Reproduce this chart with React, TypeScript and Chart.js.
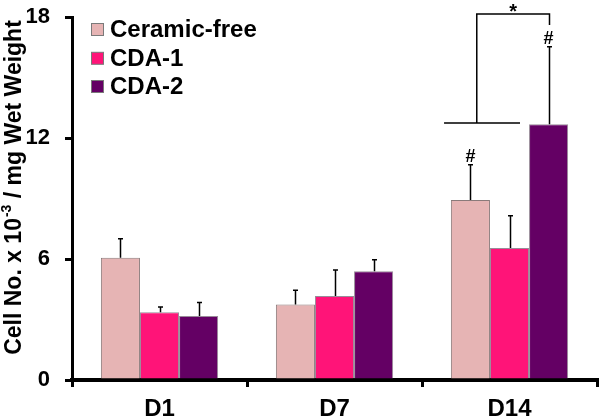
import React, { useEffect, useRef } from 'react';
import { Chart, registerables } from 'chart.js';
Chart.register(...registerables);

const categories = ['D1', 'D7', 'D14'];
const seriesNames = ['Ceramic-free', 'CDA-1', 'CDA-2'];
const ceramicFree = [6.06, 3.75, 8.92];
const cda1 = [3.36, 4.16, 6.54];
const cda2 = [3.17, 5.39, 12.68];
const ceramicFreeSd = [0.94, 0.7, 1.75];
const cda1Sd = [0.26, 1.29, 1.61];
const cda2Sd = [0.67, 0.57, 3.85];
const yTicks = [0, 6, 12, 18];
const sigMarks = [
  { dataset: 0, index: 2, text: '#' },
  { dataset: 2, index: 2, text: '#' },
];
const bracketBaseX = [1.626, 2.06];
const bracketBaseY = 12.75;
const bracketStemX = 1.813;
const bracketTopY = 18.15;
const bracketDropY = 17.6;
const bracketTarget = { dataset: 2, index: 2 };
const bracketLabel = '*';

const FONT = "'Liberation Sans', Arial, sans-serif";
const colors = ['#E6B4B4', '#FF1478', '#640064'];
const sds = [ceramicFreeSd, cda1Sd, cda2Sd];

const overlay = {
  id: 'overlay',
  afterDatasetsDraw(chart: any) {
    const ctx = chart.ctx;
    const xs = chart.scales.x;
    const ys = chart.scales.y;
    ctx.save();
    ctx.strokeStyle = '#000';
    ctx.fillStyle = '#000';
    ctx.lineWidth = 1.5;
    chart.data.datasets.forEach((ds: any, di: number) => {
      const meta = chart.getDatasetMeta(di);
      meta.data.forEach((el: any, i: number) => {
        const v = ds.data[i];
        const top = ys.getPixelForValue(v + sds[di][i]);
        const x = Math.round(el.x) + 0.5;
        ctx.beginPath();
        ctx.moveTo(x, el.y);
        ctx.lineTo(x, top);
        ctx.moveTo(x - 2.5, top);
        ctx.lineTo(x + 2.5, top);
        ctx.stroke();
      });
    });
    ctx.font = `bold 18px ${FONT}`;
    ctx.textAlign = 'center';
    ctx.textBaseline = 'alphabetic';
    sigMarks.forEach((m) => {
      const el = chart.getDatasetMeta(m.dataset).data[m.index];
      const v = chart.data.datasets[m.dataset].data[m.index];
      const top = ys.getPixelForValue(v + sds[m.dataset][m.index]);
      ctx.fillText(m.text, el.x, top - 3);
    });
    const tEl = chart.getDatasetMeta(bracketTarget.dataset).data[bracketTarget.index];
    const rx = Math.round(tEl.x) + 0.5;
    const baseY = ys.getPixelForValue(bracketBaseY);
    const topY = ys.getPixelForValue(bracketTopY);
    const dropY = ys.getPixelForValue(bracketDropY);
    const stemX = xs.getPixelForValue(bracketStemX);
    ctx.lineWidth = 1.5;
    ctx.beginPath();
    ctx.moveTo(xs.getPixelForValue(bracketBaseX[0]), baseY);
    ctx.lineTo(xs.getPixelForValue(bracketBaseX[1]), baseY);
    ctx.moveTo(stemX, baseY);
    ctx.lineTo(stemX, topY);
    ctx.lineTo(rx, topY);
    ctx.lineTo(rx, dropY);
    ctx.stroke();
    ctx.font = `bold 20px ${FONT}`;
    ctx.textBaseline = 'alphabetic';
    ctx.fillText(bracketLabel, (stemX + rx) / 2, topY + 4);
    ctx.restore();
  },
  afterDraw(chart: any) {
    const ctx = chart.ctx;
    ctx.save();
    const rows = [29.5, 58.3, 86.5];
    chart.data.datasets.forEach((ds: any, i: number) => {
      const cy = rows[i];
      ctx.fillStyle = ds.backgroundColor;
      ctx.fillRect(91.5, cy - 6, 12, 12);
      ctx.strokeStyle = '#7a7a7a';
      ctx.lineWidth = 1;
      ctx.strokeRect(91.5, cy - 6, 12, 12);
      ctx.fillStyle = '#000';
      ctx.font = `bold 24px ${FONT}`;
      ctx.textAlign = 'left';
      ctx.textBaseline = 'middle';
      ctx.fillText(ds.label, 110, cy + 1);
    });
    ctx.translate(13, 188);
    ctx.rotate(-Math.PI / 2);
    const big = `bold 23px ${FONT}`;
    const small = `bold 14px ${FONT}`;
    const p1 = 'Cell No. x 10';
    const p2 = '-3';
    const p3 = ' / mg Wet Weight';
    ctx.font = big;
    const w1 = ctx.measureText(p1).width;
    const w3 = ctx.measureText(p3).width;
    ctx.font = small;
    const w2 = ctx.measureText(p2).width;
    let x0 = -(w1 + w2 + w3) / 2;
    ctx.fillStyle = '#000';
    ctx.textAlign = 'left';
    ctx.textBaseline = 'alphabetic';
    ctx.font = big;
    ctx.fillText(p1, x0, 8);
    x0 += w1;
    ctx.font = small;
    ctx.fillText(p2, x0 + 1, -2);
    x0 += w2 + 1;
    ctx.font = big;
    ctx.fillText(p3, x0, 8);
    ctx.restore();
  },
};

export default function App() {
  const ref = useRef<HTMLCanvasElement>(null);
  useEffect(() => {
    const values = [ceramicFree, cda1, cda2];
    const chart = new Chart(ref.current as HTMLCanvasElement, {
      type: 'bar',
      data: {
        labels: categories,
        datasets: seriesNames.map((name, i) => ({
          label: name,
          data: values[i],
          backgroundColor: colors[i],
          borderColor: i === 0 ? '#8a7a7a' : 'rgba(110,90,110,0.7)',
          borderWidth: 1,
          categoryPercentage: 0.67,
          barPercentage: 1,
        })),
      },
      options: {
        responsive: false,
        animation: false,
        layout: { padding: { left: 0, top: 17, right: 3, bottom: 0 } },
        plugins: {
          legend: { display: false },
          tooltip: { enabled: false },
        },
        scales: {
          x: {
            afterFit: (s: any) => { s.height = 40; s.paddingLeft = 0; s.paddingRight = 0; },
            grid: {
              display: true,
              drawOnChartArea: false,
              drawTicks: true,
              tickLength: 7,
              lineWidth: 3,
              color: '#000',
              offset: true,
            },
            border: { display: true, width: 4, color: '#000' },
            ticks: {
              color: '#000',
              font: { family: FONT, size: 24, weight: 'bold' },
              padding: 8,
            },
          },
          y: {
            min: 0,
            max: 18,
            afterFit: (s: any) => { s.width = 72; s.paddingTop = 0; s.paddingBottom = 0; },
            afterBuildTicks: (s: any) => { s.ticks = yTicks.map((v) => ({ value: v })); },
            grid: {
              display: true,
              drawOnChartArea: false,
              drawTicks: true,
              tickLength: 7,
              lineWidth: 3,
              color: '#000',
            },
            border: { display: true, width: 3, color: '#000' },
            ticks: {
              color: '#000',
              font: { family: FONT, size: 22, weight: 'bold' },
              padding: 15,
            },
          },
        },
      },
      plugins: [overlay],
    } as any);
    return () => chart.destroy();
  }, []);
  return (
    <div style={{ position: 'absolute', left: 0, top: 0, width: 600, height: 420, background: '#fff' }}>
      <canvas ref={ref} width={600} height={420} style={{ display: 'block' }} />
    </div>
  );
}
